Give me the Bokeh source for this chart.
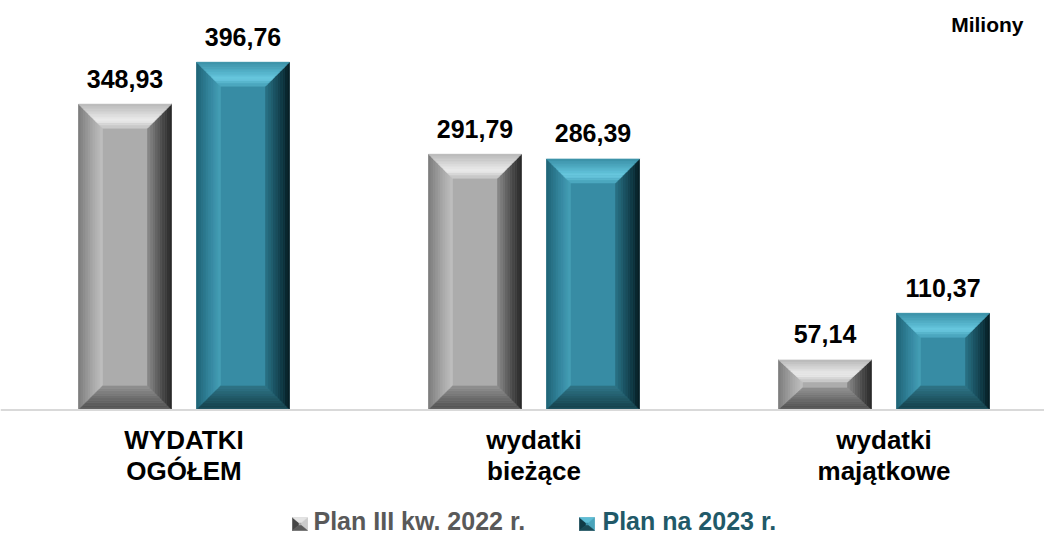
from bokeh.plotting import figure
from bokeh.models import Range1d, Span, Label
from bokeh.core.properties import value
from bokeh.embed import file_html
from bokeh.resources import INLINE

# ---------------- data ----------------
categories = ["WYDATKI\nOGÓŁEM", "wydatki\nbieżące", "wydatki\nmajątkowe"]
series_names = ["Plan III kw. 2022 r.", "Plan na 2023 r."]
plan_2022 = [348.93, 291.79, 57.14]
plan_2023 = [396.76, 286.39, 110.37]
unit_label = "Miliony"

# ---------------- geometry ----------------
W, H = 1044, 535
PX_X = 350.0                      # pixels per category slot
PX_Y = 0.8766                     # pixels per value unit
BASE_PX = 409.5                   # page y of the zero line
x_start = 0.5 - 183.5 / PX_X
x_end = x_start + W / PX_X
y_top = BASE_PX / PX_Y
y_bot = -(H - BASE_PX) / PX_Y

BAR_W = 93 / PX_X
OFFSET = 59 / PX_X
BEVEL_X = 24 / PX_X
BEVEL_Y = 24 / PX_Y
NB = 10
BL_FIX = 0.34                     # baseline correction (fraction of font size)

FONT_NAME = "Liberation Sans"
FONT = value(FONT_NAME)


def hex2rgb(h):
    h = h.lstrip("#")
    return [int(h[i:i + 2], 16) for i in (0, 2, 4)]


def ramp(stops, n):
    out = []
    for k in range(n):
        t = (k + 0.5) / n
        for (t0, c0), (t1, c1) in zip(stops[:-1], stops[1:]):
            if t0 <= t <= t1:
                f = (t - t0) / (t1 - t0) if t1 > t0 else 0
                a, b = hex2rgb(c0), hex2rgb(c1)
                out.append("#%02x%02x%02x" % tuple(int(round(x + (y - x) * f)) for x, y in zip(a, b)))
                break
    return out


styles = [
    dict(face="#acacac",
         top=ramp([(0, "#b8b8b8"), (0.55, "#e4e4e4"), (0.7, "#ececec"), (1, "#c2c2c2")], NB),
         left=ramp([(0, "#7a7a7a"), (0.6, "#a8a8a8"), (1, "#c0c0c0")], NB),
         right=ramp([(0, "#262626"), (0.4, "#4a4a4a"), (1, "#8a8a8a")], NB),
         bottom=ramp([(0, "#6a6a6a"), (0.15, "#555555"), (1, "#909090")], NB),
         text="#595959"),
    dict(face="#378ca4",
         top=ramp([(0, "#3a90a6"), (0.55, "#5ebdd5"), (0.7, "#6ccae1"), (1, "#45a0b8")], NB),
         left=ramp([(0, "#1f6374"), (0.6, "#3688a0"), (1, "#46a0b7")], NB),
         right=ramp([(0, "#061a20"), (0.4, "#123f4b"), (1, "#2a7286")], NB),
         bottom=ramp([(0, "#275e6c"), (0.15, "#17434e"), (1, "#2f7587")], NB),
         text="#215968"),
]

p = figure(width=W, height=H, output_backend="svg", toolbar_location=None,
           x_range=Range1d(x_start, x_end), y_range=Range1d(y_bot, y_top),
           min_border=0, outline_line_color=None, background_fill_color="white",
           border_fill_color="white")
p.xaxis.visible = False
p.yaxis.visible = False
p.xgrid.visible = False
p.ygrid.visible = False


def bevel(x0, x1, y0, y1, bx, by, st, xs, ys, cs):
    n = len(st["top"])
    for k in range(n):
        a, b = k / n, (k + 1) / n
        ox0, ox1, oy0, oy1 = x0 + a * bx, x1 - a * bx, y0 + a * by, y1 - a * by
        ix0, ix1, iy0, iy1 = x0 + b * bx, x1 - b * bx, y0 + b * by, y1 - b * by
        xs += [[ox0, ix0, ix0, ox0], [ox1, ix1, ix1, ox1],
               [ox0, ox1, ix1, ix0], [ox0, ox1, ix1, ix0]]
        ys += [[oy0, iy0, iy1, oy1], [oy0, iy0, iy1, oy1],
               [oy1, oy1, iy1, iy1], [oy0, oy0, iy0, iy0]]
        cs += [st["left"][k], st["right"][k], st["top"][k], st["bottom"][k]]


centers = [i + 0.5 for i in range(len(categories))]
VAL_FS = 25
CAT_FS = 26

for si, (vals, st) in enumerate(zip([plan_2022, plan_2023], styles)):
    sign = -1 if si == 0 else 1
    xc = [c + sign * OFFSET for c in centers]
    p.vbar(x=xc, top=vals, bottom=0, width=BAR_W, fill_color=st["face"],
           line_color=None)
    xs, ys, cs = [], [], []
    for x, v in zip(xc, vals):
        by = min(BEVEL_Y, 0.44 * v)
        bevel(x - BAR_W / 2, x + BAR_W / 2, 0, v, BEVEL_X, by, st, xs, ys, cs)
    p.patches(xs=xs, ys=ys, fill_color=cs, line_color=cs, line_width=0.6)
    # value labels
    p.text(x=xc, y=[v + (17 + BL_FIX * VAL_FS) / PX_Y for v in vals],
           text=[f"{v:.2f}".replace(".", ",") for v in vals],
           text_align="center", text_baseline="alphabetic",
           text_font=FONT, text_font_style="bold", text_font_size=f"{VAL_FS}px",
           text_color="black")

# baseline axis
p.add_layout(Span(location=0, dimension="width", line_color="#d9d9d9",
                  line_width=2))

# category labels (two lines)
line1 = [c.split("\n")[0] for c in categories]
line2 = [c.split("\n")[1] for c in categories]
for txt, base in ((line1, 448), (line2, 479)):
    p.text(x=centers, y=[-(base - BL_FIX * CAT_FS - BASE_PX) / PX_Y] * 3, text=txt,
           text_align="center", text_baseline="alphabetic", text_font=FONT,
           text_font_style="bold", text_font_size=f"{CAT_FS}px", text_color="black")

# unit label
p.add_layout(Label(x=1023, y=H - (31 - BL_FIX * 21), x_units="screen", y_units="screen",
                   text=unit_label, text_align="right",
                   text_baseline="alphabetic", text_font=FONT_NAME,
                   text_font_style="bold", text_font_size="21px",
                   text_color="black"))

# legend
LEG_FS = 25
leg_text_x = [313, 602]
leg_marker_x = [292, 579]
mk_w, mk_h = 15, 13
mk_top_px = 517
for name, st, tx, mx in zip(series_names, styles, leg_text_x, leg_marker_x):
    p.add_layout(Label(x=tx, y=H - (529 - BL_FIX * LEG_FS), x_units="screen", y_units="screen",
                       text=name, text_align="left", text_baseline="alphabetic",
                       text_font=FONT_NAME, text_font_style="bold",
                       text_font_size=f"{LEG_FS}px", text_color=st["text"]))
    x0 = x_start + mx / PX_X
    x1 = x0 + mk_w / PX_X
    y1 = y_top - mk_top_px / PX_Y
    y0 = y1 - mk_h / PX_Y
    mst = dict(top=[st["top"][5]], left=[st["right"][3]], right=[st["top"][2]],
               bottom=[st["bottom"][2]])
    xs, ys, cs = [], [], []
    bevel(x0, x1, y0, y1, 6 / PX_X, 5 / PX_Y, mst, xs, ys, cs)
    p.quad(left=[x0], right=[x1], bottom=[y0], top=[y1], fill_color=st["face"],
           line_color=None)
    p.patches(xs=xs, ys=ys, fill_color=cs, line_color=cs, line_width=0.5)

open("out.html", "w").write(file_html(p, INLINE))
